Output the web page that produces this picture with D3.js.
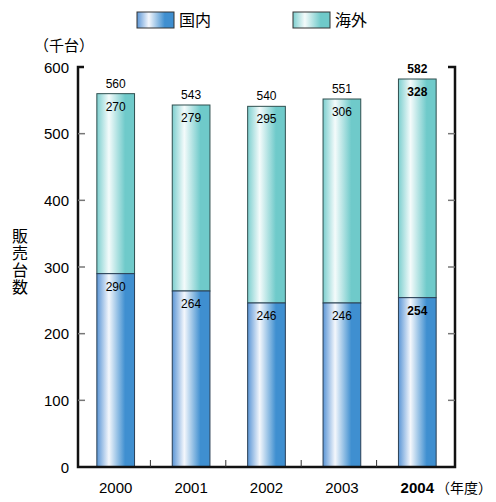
<!DOCTYPE html>
<html>
<head>
<meta charset="utf-8">
<script src="https://cdn.jsdelivr.net/npm/d3@7"></script>
<style>
  body { margin: 0; background: #fff; }
  svg { display: block; }
  text { font-family: "Liberation Sans", Arial, "Noto Sans CJK JP", sans-serif; }
  .jp { font-family: "Noto Sans CJK JP", sans-serif; }
</style>
</head>
<body>
<svg id="chart" width="496" height="502"></svg>
<script>
const years = ["2000", "2001", "2002", "2003", "2004"];
const domestic = [290, 264, 246, 246, 254];
const overseas = [270, 279, 295, 306, 328];
const totals = [560, 543, 540, 551, 582];
const yTicks = [0, 100, 200, 300, 400, 500, 600];
const seriesNames = ["国内", "海外"];

const svg = d3.select("#chart");
const margin = {left: 78, right: 41, top: 67, bottom: 35};
const W = 496, H = 502;

const x = d3.scaleBand().domain(years).range([margin.left, W - margin.right]).paddingInner(0.5).paddingOuter(0.25);
const y = d3.scaleLinear().domain([0, 600]).range([H - margin.bottom, margin.top]);

const defs = svg.append("defs");
const makeGrad = (id, edgeL, mid, edgeR) => {
    const g = defs.append("linearGradient").attr("id", id).attr("x1", "0%").attr("x2", "100%").attr("y1", "0%").attr("y2", "0%");
    g.append("stop").attr("offset", "0%").attr("stop-color", edgeL);
    g.append("stop").attr("offset", "32%").attr("stop-color", mid);
    g.append("stop").attr("offset", "75%").attr("stop-color", edgeR);
    g.append("stop").attr("offset", "100%").attr("stop-color", edgeR);
};
makeGrad("gradDom", "#5b96d6", "#f4f7fc", "#3f8fd0");
makeGrad("gradOvr", "#7dcfcf", "#f4fbfb", "#6fcaca");

const grads = ["url(#gradDom)", "url(#gradOvr)"];

// bars
const stackData = years.map((yr, i) => ({year: yr, dom: domestic[i], ovr: overseas[i], total: totals[i], bold: yr === "2004"}));

const g = svg.append("g");
stackData.forEach(d => {
    const bx = x(d.year), bw = x.bandwidth();
    // overseas
    g.append("rect")
        .attr("x", bx).attr("y", y(d.dom + d.ovr))
        .attr("width", bw).attr("height", y(d.dom) - y(d.dom + d.ovr))
        .attr("fill", grads[1]).attr("stroke", "#2f4f4f").attr("stroke-width", 1);
    // domestic
    g.append("rect")
        .attr("x", bx).attr("y", y(d.dom))
        .attr("width", bw).attr("height", y(0) - y(d.dom))
        .attr("fill", grads[0]).attr("stroke", "#2a3f55").attr("stroke-width", 1);

    const cx = bx + bw / 2;
    const fw = d.bold ? "bold" : "normal";
    g.append("text").attr("x", cx).attr("y", y(d.dom + d.ovr) - 6)
        .attr("text-anchor", "middle").attr("font-size", 12).attr("font-weight", fw).text(d.total);
    g.append("text").attr("x", cx).attr("y", y(d.dom + d.ovr) + 17)
        .attr("text-anchor", "middle").attr("font-size", 12).attr("font-weight", fw).text(d.ovr);
    g.append("text").attr("x", cx).attr("y", y(d.dom) + 17)
        .attr("text-anchor", "middle").attr("font-size", 12).attr("font-weight", fw).text(d.dom);
});

// axes
const x0 = margin.left, x1 = W - margin.right;
const yTop = y(600), yBot = y(0);
const ax = svg.append("g");
ax.append("path")
    .attr("d", `M${x0 + 6},${yTop} H${x0} V${yBot} H${x1} V${yTop} H${x1 - 7}`)
    .attr("fill", "none").attr("stroke", "#111").attr("stroke-width", 2.5);

yTicks.filter(t => t > 0 && t < 600).forEach(t => {
    ax.append("line").attr("x1", x0).attr("x2", x0 + 7).attr("y1", y(t)).attr("y2", y(t))
        .attr("stroke", "#777").attr("stroke-width", 1.5);
    ax.append("line").attr("x1", x1 - 7).attr("x2", x1).attr("y1", y(t)).attr("y2", y(t))
        .attr("stroke", "#777").attr("stroke-width", 1.5);
});

yTicks.forEach(t => {
    ax.append("text").attr("x", 69).attr("y", y(t) + 5.5)
        .attr("text-anchor", "end").attr("font-size", 15).text(t);
});

// bottom ticks between bars
years.slice(1).forEach(yr => {
    const tx = x(yr) - x.step() * x.paddingInner() / 2 - 3;
    ax.append("line").attr("x1", tx).attr("x2", tx).attr("y1", yBot).attr("y2", yBot - 7)
        .attr("stroke", "#333").attr("stroke-width", 1);
});

// x labels
years.forEach(yr => {
    ax.append("text").attr("x", x(yr) + x.bandwidth() / 2).attr("y", 493)
        .attr("text-anchor", "middle").attr("font-size", 15)
        .attr("font-weight", yr === "2004" ? "bold" : "normal").text(yr);
});
ax.append("text").attr("class", "jp").attr("x", 436).attr("y", 493)
    .attr("font-size", 14).text("（年度）");

// y unit and title
svg.append("text").attr("class", "jp").attr("x", 34).attr("y", 51).attr("font-size", 15).text("（千台）");
svg.append("text").attr("class", "jp")
    .attr("x", 20).attr("y", 228)
    .attr("font-size", 16)
    .style("writing-mode", "vertical-rl")
    .style("letter-spacing", "1px")
    .text("販売台数");

// legend
const lg = svg.append("g");
const legX = [137, 293];
seriesNames.forEach((n, i) => {
    lg.append("rect").attr("x", legX[i]).attr("y", 12).attr("width", 37).attr("height", 16)
        .attr("fill", grads[i]).attr("stroke", "#333").attr("stroke-width", 1);
    lg.append("text").attr("class", "jp").attr("x", legX[i] + 42).attr("y", 26)
        .attr("font-size", 16).text(n);
});
</script>
</body>
</html>
